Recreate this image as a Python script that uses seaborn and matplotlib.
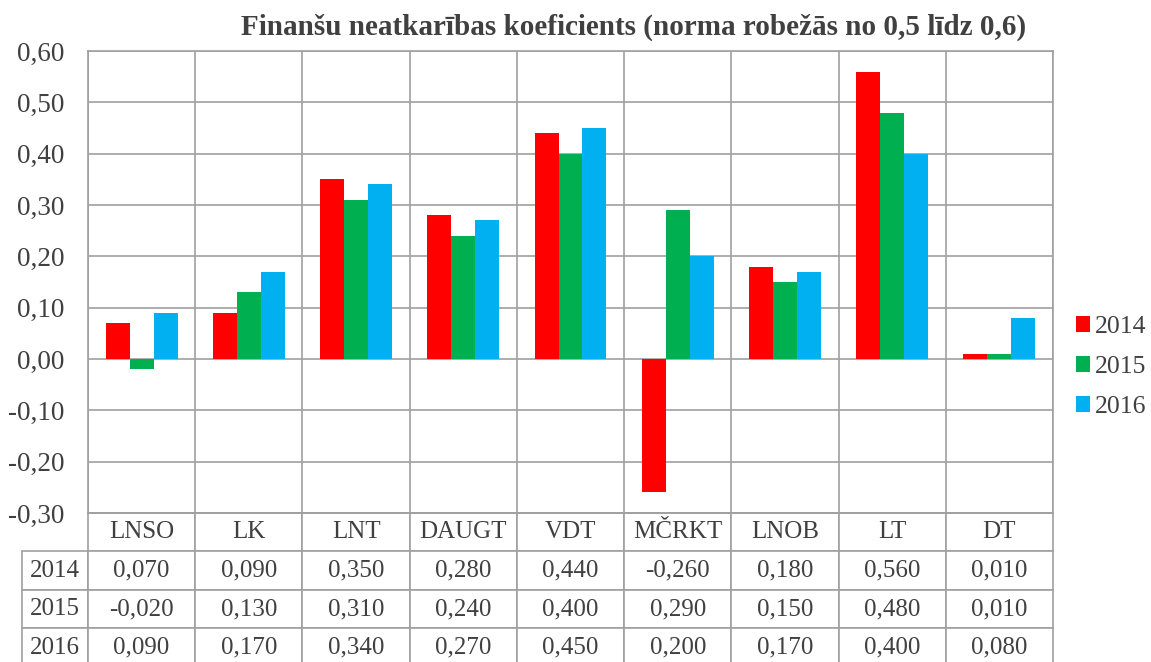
import numpy as np
import pandas as pd
import seaborn as sns
import matplotlib.pyplot as plt
from matplotlib.ticker import FuncFormatter, MultipleLocator
from matplotlib.table import Table

sns.set_theme(style="white")
plt.rcParams['font.family'] = ['Liberation Serif', 'DejaVu Serif']

categories = ["LNSO", "LK", "LNT", "DAUGT", "VDT", "MČRKT", "LNOB", "LT", "DT"]
years = ["2014", "2015", "2016"]
vals_2014 = [0.07, 0.09, 0.35, 0.28, 0.44, -0.26, 0.18, 0.56, 0.01]
vals_2015 = [-0.02, 0.13, 0.31, 0.24, 0.40, 0.29, 0.15, 0.48, 0.01]
vals_2016 = [0.09, 0.17, 0.34, 0.27, 0.45, 0.20, 0.17, 0.40, 0.08]
colors = ["#FF0000", "#00B050", "#00B0F0"]
title = "Finanšu neatkarības koeficients (norma robežās no 0,5 līdz 0,6)"

grid_col = "#A0A0A0"
text_col = "#404040"

series = [vals_2014, vals_2015, vals_2016]
df = pd.DataFrame({
    'Kategorija': categories * 3,
    'Vērtība': vals_2014 + vals_2015 + vals_2016,
    'Gads': [y for y in years for _ in categories],
})

def comma(v, p=None, nd=2):
    return f"{v:.{nd}f}".replace('.', ',')

fig = plt.figure(figsize=(11.51, 6.62), dpi=100)
ax = fig.add_axes([88/1151, 1 - 513/662, 965/1151, 462/662])

sns.barplot(data=df, x='Kategorija', y='Vērtība', hue='Gads', palette=colors,
            width=0.67, saturation=1, errorbar=None, linewidth=0, ax=ax, zorder=3)

ax.set_ylim(-0.30, 0.60)
ax.yaxis.set_major_locator(MultipleLocator(0.10))
ax.yaxis.set_major_formatter(FuncFormatter(comma))
ax.set_xlim(-0.5, len(categories) - 0.5)
ax.set_xticks(np.arange(-0.5, len(categories)), minor=True)
ax.grid(True, axis='y', which='major', color=grid_col, lw=1.2, zorder=0)
ax.grid(True, axis='x', which='minor', color=grid_col, lw=1.2, zorder=0)
ax.tick_params(axis='both', which='both', length=0)
ax.tick_params(axis='y', labelsize=19.5, labelcolor=text_col, pad=17)
ax.tick_params(axis='x', labelbottom=False)
ax.set_xlabel('')
ax.set_ylabel('')
for s in ax.spines.values():
    s.set_color(grid_col)
    s.set_linewidth(1.2)

# data table below the axes: column 0 = year labels, blank corner cell on top
label_w = 66 / 965
n = len(categories)
tab = Table(ax, bbox=[-label_w, -0.3333, 1 + label_w, 0.3333])
corner = tab.add_cell(0, 0, width=label_w * n, height=1, text='', facecolor='none')
corner.visible_edges = ''
for c, name in enumerate(categories, start=1):
    tab.add_cell(0, c, width=1, height=1, text=name, loc='center',
                 edgecolor=grid_col, facecolor='white')
for r, (yr, vals) in enumerate(zip(years, series), start=1):
    tab.add_cell(r, 0, width=label_w * n, height=1, text=yr,
                 loc='center', edgecolor=grid_col, facecolor='white')
    for c, v in enumerate(vals, start=1):
        tab.add_cell(r, c, width=1, height=1, text=comma(v, nd=3), loc='center',
                     edgecolor=grid_col, facecolor='white')
tab.auto_set_font_size(False)
tab.set_fontsize(18)
for cell in tab.get_celld().values():
    cell.set_linewidth(1.2)
    cell.get_text().set_color(text_col)
ax.add_table(tab)

sns.move_legend(ax, loc='center left', bbox_to_anchor=((1076 - 88) / 965, 0.316),
                frameon=False, title=None, fontsize=18.5, borderpad=0,
                borderaxespad=0, handlelength=0.55, handleheight=0.55,
                handletextpad=0.2, labelspacing=0.7, labelcolor=text_col)

fig.text(634/1151, 1 - 27/662, title, ha='center', va='center',
         fontsize=21, fontweight='bold', color=text_col)

fig.savefig('out.png', dpi=100)
